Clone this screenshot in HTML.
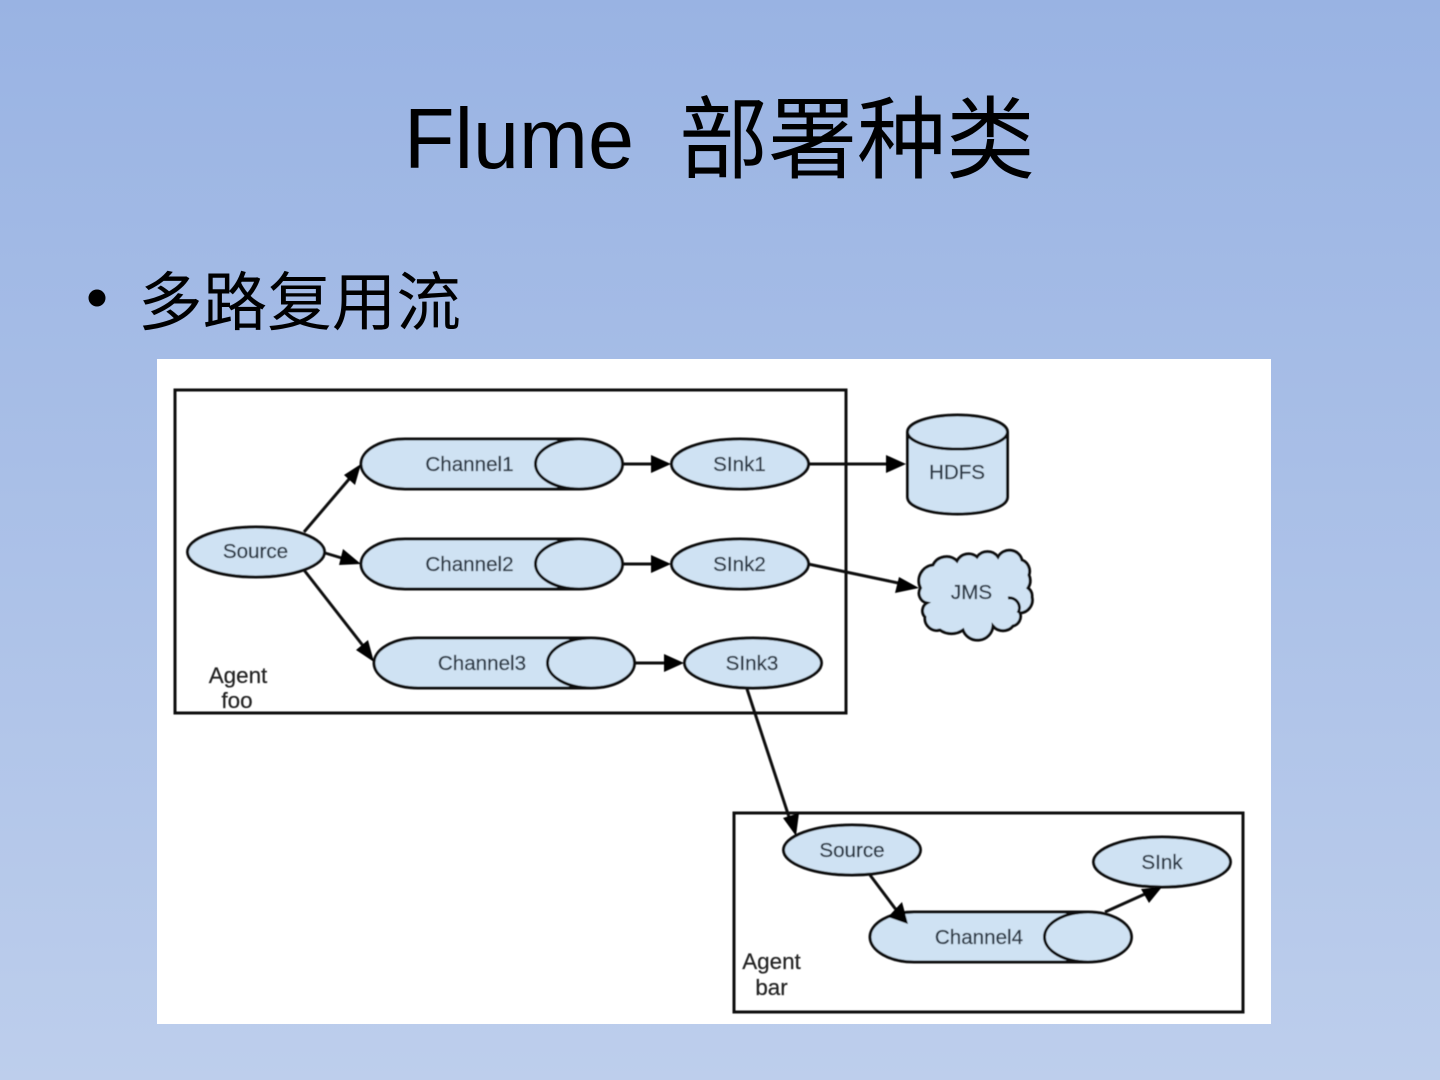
<!DOCTYPE html>
<html lang="zh">
<head>
<meta charset="utf-8">
<title>Flume 部署种类</title>
<style>
html,body{margin:0;padding:0;width:1440px;height:1080px;overflow:hidden}
svg{display:block}
.cjk{font-family:"WenQuanYi Zen Hei","Noto Sans CJK SC",sans-serif}
.lat{font-family:"Liberation Sans",sans-serif}
.l{font-family:"Liberation Sans",sans-serif;font-size:20.6px;fill:#2c3845;stroke:#2c3845;stroke-width:.3;text-anchor:middle}
.a{font-family:"Liberation Sans",sans-serif;font-size:22.4px;fill:#222;stroke:#222;stroke-width:.2;text-anchor:middle}
.s{fill:#cfe2f3;stroke:#111;stroke-width:3}
.c{fill:none;stroke:#111;stroke-width:3}
.h{fill:#000;stroke:none}
</style>
</head>
<body>
<svg width="1440" height="1080" viewBox="0 0 1440 1080" xmlns="http://www.w3.org/2000/svg">
<defs>
<linearGradient id="bg" x1="0" y1="0" x2="0" y2="1">
<stop offset="0" stop-color="#99b3e3"/>
<stop offset="1" stop-color="#bdceec"/>
</linearGradient>
<filter id="soft" x="-2%" y="-2%" width="104%" height="104%"><feGaussianBlur stdDeviation="0.5"/></filter>
</defs>
<rect width="1440" height="1080" fill="url(#bg)"/>

<text class="lat" x="404" y="168" font-size="85" textLength="230" lengthAdjust="spacingAndGlyphs" fill="#000">Flume</text>
<text class="cjk" x="679" y="171" font-size="90" textLength="356" lengthAdjust="spacingAndGlyphs" fill="#000">部署种类</text>
<circle cx="97" cy="298" r="8.5" fill="#000"/>
<text class="cjk" x="138" y="325" font-size="64" textLength="323" lengthAdjust="spacingAndGlyphs" fill="#000">多路复用流</text>

<rect x="157" y="359" width="1114" height="665" fill="#fff"/>

<g filter="url(#soft)">
<rect class="c" x="175" y="390" width="671" height="323"/>
<rect class="c" x="734" y="813" width="509" height="199"/>

<!-- connectors -->
<path class="c" d="M304 532L350 478M325 553L345 559M304 570L364 647M622 464H655M622 564H655M635 663H668M808 464H890M808 564L903 584M747 689L790 820M870 875L897 911M1105 912L1145 894"/>

<!-- channel 1 -->
<path class="s" d="M579 439H405A44 25 0 0 0 405 489H579"/>
<ellipse class="s" cx="579" cy="464" rx="43.500" ry="25"/>
<!-- channel 2 -->
<path class="s" d="M579 539H405A44 25 0 0 0 405 589H579"/>
<ellipse class="s" cx="579" cy="564" rx="43.500" ry="25"/>
<!-- channel 3 -->
<path class="s" d="M591 638H418A44 25 0 0 0 418 688H591"/>
<ellipse class="s" cx="591" cy="663" rx="43.500" ry="25"/>
<!-- channel 4 -->
<path class="s" d="M1088 912H914A44 25 0 0 0 914 962H1088"/>
<ellipse class="s" cx="1088" cy="937" rx="43.500" ry="25"/>

<ellipse class="s" cx="256" cy="552" rx="68.500" ry="25"/>
<ellipse class="s" cx="740" cy="464" rx="68.500" ry="25"/>
<ellipse class="s" cx="740" cy="564" rx="68.500" ry="25"/>
<ellipse class="s" cx="753" cy="663" rx="68.500" ry="25"/>
<ellipse class="s" cx="852" cy="850" rx="68.500" ry="25"/>
<ellipse class="s" cx="1162" cy="862" rx="68.500" ry="25"/>

<!-- HDFS cylinder -->
<path class="s" d="M907.500 432V497C907.500 507 930 514 957.500 514C985 514 1007.500 507 1007.500 497V432"/>
<ellipse class="s" cx="957.500" cy="432" rx="50" ry="17"/>

<!-- JMS cloud -->
<path class="s" d="M920.500 588A16 16 0 0 1 933 565A15 15 0 0 1 957 561A13 13 0 0 1 977 557A13 13 0 0 1 998 557A13 13 0 0 1 1022 560A12 12 0 0 1 1029 575A14 14 0 0 1 1028 588A10 10 0 0 1 1032 597A13 13 0 0 1 1020 613A10 10 0 0 1 1013 626A13 13 0 0 1 993 626A15.500 15.500 0 0 1 963 630A20 20 0 0 1 940 630A12 12 0 0 1 925 617A9 9 0 0 1 927 603A10 10 0 0 1 920.500 588Z"/>
<path class="c" d="M1008 598A10 10 0 0 1 1018 613"/>

<!-- arrowheads on top -->
<path class="h" d="M361 464L355 485L344 475ZM361 564L339 565L343 549ZM374 662L356 650L368 640ZM671 464L651 455V473ZM671 564L651 555V573ZM684 663L664 654V672ZM906 464L886 455V473ZM919 588L899 577L895 593ZM796 836L783 818L799 813ZM908 924L888 917L902 902ZM1162 887L1149 903L1141 889Z"/>

<!-- labels -->
<text class="l" x="469.500" y="471">Channel1</text>
<text class="l" x="469.500" y="571">Channel2</text>
<text class="l" x="482" y="670">Channel3</text>
<text class="l" x="979" y="944">Channel4</text>
<text class="l" x="255.500" y="558">Source</text>
<text class="l" x="852" y="857">Source</text>
<text class="l" x="739.500" y="471">SInk1</text>
<text class="l" x="739.500" y="571">SInk2</text>
<text class="l" x="752" y="670">SInk3</text>
<text class="l" x="1162" y="869">SInk</text>
<text class="l" x="957" y="479">HDFS</text>
<text class="l" x="971.500" y="599">JMS</text>
<text class="a" x="238" y="683">Agent</text>
<text class="a" x="237" y="708">foo</text>
<text class="a" x="771.500" y="969">Agent</text>
<text class="a" x="771.500" y="995">bar</text>
</g>
</svg>
</body>
</html>
